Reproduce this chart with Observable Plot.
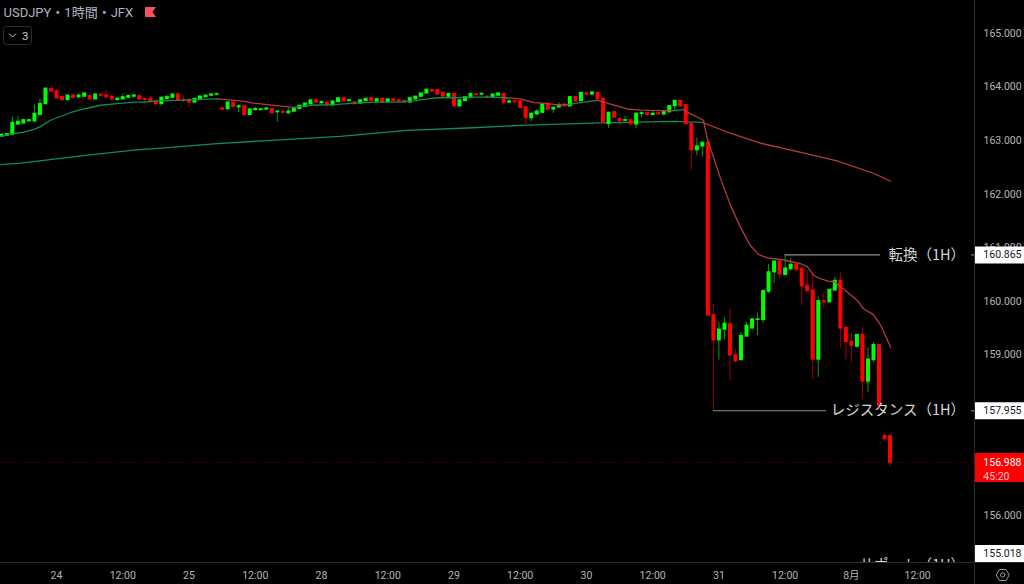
<!DOCTYPE html>
<html><head><meta charset="utf-8">
<script src="https://cdn.jsdelivr.net/npm/d3@7"></script>
<script src="https://cdn.jsdelivr.net/npm/@observablehq/plot@0.6"></script>
<style>html,body{margin:0;padding:0;background:#000;overflow:hidden}svg{display:block}</style>
</head><body><div id="chart"></div>
<script>
const firstBar = -10;
const opens = [163.07,163.09,163.11,163.30,163.32,163.36,163.36,163.48,163.68,163.96,
163.92,163.81,163.76,163.84,163.81,163.82,163.83,163.77,163.86,163.84,
163.82,163.76,163.77,163.80,163.82,163.83,163.77,163.78,163.73,163.68,
163.78,163.80,163.86,163.76,163.76,163.71,163.76,163.81,163.84,163.86,
163.60,163.59,163.71,163.62,163.64,163.48,163.57,163.57,163.58,163.59,
163.53,163.53,163.51,163.54,163.59,163.63,163.68,163.75,163.70,163.71,
163.66,163.72,163.79,163.74,163.71,163.69,163.74,163.79,163.73,163.78,
163.72,163.77,163.75,163.74,163.71,163.77,163.82,163.88,163.94,163.94,
163.89,163.82,163.87,163.64,163.74,163.80,163.86,163.86,163.82,163.81,
163.84,163.87,163.71,163.73,163.73,163.62,163.42,163.49,163.52,163.69,
163.58,163.62,163.67,163.64,163.81,163.74,163.88,163.86,163.89,163.78,
163.31,163.53,163.40,163.37,163.38,163.30,163.50,163.51,163.48,163.51,
163.49,163.53,163.64,163.74,163.66,163.31,162.82,162.89,162.96,159.74,
159.27,159.47,159.57,158.99,158.90,159.34,159.49,159.65,159.65,160.18,
160.54,160.74,160.49,160.60,160.68,160.60,160.29,160.20,158.91,160.00,
159.98,160.20,160.38,159.50,159.24,159.15,159.37,158.50,158.90,159.18,
157.48,157.48];
const highs = [163.11,163.12,163.44,163.45,163.40,163.39,163.66,163.78,163.97,163.99,
163.96,163.84,163.84,163.86,163.87,163.88,163.84,163.86,163.87,163.94,
163.84,163.81,163.87,163.85,163.86,163.84,163.80,163.82,163.77,163.81,
163.84,163.86,163.89,163.84,163.78,163.78,163.84,163.84,163.87,163.87,
163.64,163.71,163.71,163.67,163.64,163.58,163.62,163.61,163.61,163.60,
163.54,163.56,163.61,163.61,163.65,163.69,163.75,163.77,163.73,163.72,
163.73,163.79,163.79,163.77,163.72,163.75,163.78,163.84,163.79,163.79,
163.77,163.77,163.77,163.75,163.79,163.82,163.88,163.95,163.96,163.94,
163.89,163.88,163.87,163.75,163.81,163.87,163.87,163.90,163.83,163.87,
163.88,163.87,163.78,163.76,163.75,163.62,163.50,163.58,163.68,163.69,
163.63,163.71,163.69,163.81,163.81,163.89,163.89,163.90,163.90,163.82,
163.52,163.56,163.40,163.45,163.38,163.52,163.55,163.51,163.56,163.53,
163.55,163.64,163.74,163.74,163.66,163.31,163.05,162.96,162.96,159.94,
159.61,159.69,159.84,159.09,159.42,159.61,159.66,159.78,160.19,160.69,
160.74,160.75,160.865,160.79,160.70,160.64,160.57,160.51,160.08,160.17,
160.23,160.45,160.53,159.50,159.41,159.37,159.50,159.13,159.23,159.18,
157.53,157.48];
const lows = [163.07,163.09,163.11,163.30,163.31,163.36,163.33,163.47,163.68,163.89,
163.78,163.73,163.72,163.79,163.78,163.82,163.77,163.77,163.81,163.79,
163.74,163.73,163.77,163.79,163.79,163.76,163.66,163.71,163.68,163.67,
163.75,163.80,163.75,163.71,163.64,163.71,163.75,163.81,163.81,163.84,
163.56,163.55,163.61,163.52,163.47,163.47,163.55,163.55,163.57,163.51,
163.34,163.50,163.50,163.53,163.58,163.63,163.68,163.70,163.66,163.59,
163.65,163.71,163.73,163.73,163.67,163.69,163.73,163.73,163.71,163.69,
163.71,163.73,163.72,163.69,163.71,163.76,163.81,163.87,163.91,163.86,
163.82,163.81,163.64,163.64,163.72,163.79,163.84,163.84,163.78,163.80,
163.84,163.67,163.70,163.66,163.61,163.28,163.35,163.46,163.52,163.55,
163.51,163.61,163.64,163.64,163.72,163.73,163.84,163.86,163.76,163.33,
163.23,163.43,163.36,163.36,163.27,163.22,163.42,163.48,163.46,163.48,
163.46,163.52,163.56,163.64,163.30,162.44,162.72,162.69,159.73,157.955,
158.90,159.28,158.52,158.85,158.90,159.34,159.49,159.36,159.59,160.14,
160.33,160.42,160.48,160.56,160.54,159.92,160.18,158.54,158.58,159.85,
159.97,160.19,159.13,158.91,158.85,159.13,158.17,158.30,158.86,158.04,
157.39,156.92];
const closes = [163.11,163.12,163.33,163.35,163.38,163.38,163.50,163.68,163.97,163.92,
163.79,163.76,163.84,163.80,163.84,163.88,163.77,163.86,163.84,163.81,
163.77,163.78,163.81,163.83,163.84,163.77,163.76,163.73,163.68,163.80,
163.81,163.86,163.76,163.74,163.71,163.78,163.82,163.84,163.86,163.87,
163.58,163.71,163.63,163.64,163.48,163.58,163.59,163.58,163.60,163.51,
163.54,163.52,163.54,163.59,163.65,163.69,163.75,163.71,163.72,163.66,
163.73,163.79,163.73,163.75,163.68,163.75,163.78,163.74,163.77,163.71,
163.77,163.74,163.73,163.72,163.79,163.82,163.88,163.95,163.92,163.86,
163.82,163.87,163.64,163.75,163.81,163.87,163.85,163.87,163.81,163.86,
163.88,163.71,163.73,163.72,163.61,163.42,163.50,163.54,163.68,163.58,
163.61,163.66,163.64,163.81,163.73,163.89,163.86,163.90,163.77,163.33,
163.52,163.43,163.36,163.38,163.31,163.50,163.51,163.48,163.50,163.49,
163.53,163.64,163.74,163.64,163.31,162.82,162.89,162.96,159.73,159.27,
159.47,159.58,158.99,158.88,159.35,159.54,159.66,159.66,160.19,160.54,
160.74,160.50,160.61,160.68,160.59,160.28,160.19,158.91,160.00,159.98,
160.21,160.38,159.49,159.24,159.17,159.37,158.50,158.91,159.18,158.04,
157.43,156.988];

const shortBars = [-10.14,-7.7,-5.9,-4.1,-2.9,-1.1,0.7,2.5,4.9,8,11,14,15.8,18.8,21.9,26.1,29.1,33.3,35.7,38.2,41.1,43,46,50.2,55.1,58.7,62.3,64.7,66.5,69,71.9,75.5,78,81.7,84.1,86.5,88.9,91.3,92.6,94.9,98,99.1,103.4,105.8,109.4,111.8,113.6,114.3,117.2,117.9,119.1,120.3,122.1,123.9,125.7,127.2,128.8,131.7,134.8,136,137.2,138.4,139.9,140.8,142.6,145.1,146.2,148,149.3,151.1];
const shortPrices = [163.08,163.13,163.16,163.21,163.26,163.38,163.45,163.52,163.59,163.66,163.69,163.72,163.72,163.74,163.75,163.77,163.78,163.74,163.70,163.67,163.64,163.62,163.66,163.67,163.71,163.72,163.72,163.74,163.77,163.80,163.80,163.81,163.81,163.80,163.78,163.71,163.69,163.66,163.67,163.71,163.75,163.72,163.59,163.57,163.56,163.56,163.58,163.53,163.38,163.03,162.66,162.29,161.79,161.38,161.04,160.87,160.81,160.77,160.70,160.65,160.48,160.42,160.37,160.37,160.23,160.01,159.86,159.75,159.55,159.14];
const shortTurns = [29.1,43,81.7,92.6,98,111.8,113.6];
const longBars = [-10.14,-6.5,-2.3,4.9,14,20.1,28.5,38.2,51.4,63.5,75.5,85.3,98.6,111.8,117,121.5,127.2,136,141.4,148,151.1];
const longPrices = [162.55,162.58,162.63,162.72,162.82,162.87,162.94,163.00,163.08,163.19,163.24,163.29,163.33,163.36,163.34,163.16,162.96,162.75,162.62,162.39,162.24];
const longTurn = 117;

const yTicks = [156,157,158,159,160,161,162,163,164,165];
const xTicks = [0,12,24,36,48,60,72,84,96,108,120,132,144,156];
const xLabels = ["24","12:00","25","12:00","28","12:00","29","12:00","30","12:00","31","12:00","8月","12:00"];
const lastPrice = 156.988;
const lastTag = ["156.988","45:20"];
const levels = [
  {name:"転換（1H）", price:160.865, start:132, end:149.3, tag:"160.865"},
  {name:"レジスタンス（1H）", price:157.955, start:119, end:139.5, tag:"157.955"}
];
const pinned = {name:"サポート（1H）", price:155.06, tag:"155.018", tagPrice:155.29};

const bars = opens.map((o,k)=>({bar:firstBar+k, open:o, high:highs[k], low:lows[k], close:closes[k]}));
const up = bars.filter(d=>d.close>=d.open), down = bars.filter(d=>d.close<d.open);
const shortLine = shortBars.map((b,k)=>({bar:b, price:shortPrices[k], trend: shortTurns.filter(t=>t<=b).length%2 ? "down":"up"}));
const longLine = longBars.map((b,k)=>({bar:b, price:longPrices[k], trend: b>=longTurn ? "down":"up"}));

const axisBar = 166.3, edgeBar = 175.4, tagBar = 167.9, textEnd = 164.6, tickStart = 165.8;
const font = "Roboto, 'Noto Sans CJK JP', sans-serif";
const cjk = "'Noto Sans CJK JP', sans-serif";
const axisInk = "#b2b5be";

function chrome(index, scales, values, dim){
  const g = d3.create("svg:g").attr("fill","none");
  const ax = scales.x(axisBar), ay = scales.y(155.121);
  g.append("line").attr("x1",ax+.5).attr("x2",ax+.5).attr("y1",0).attr("y2",dim.height).attr("stroke","#2b2b2b");
  g.append("line").attr("x1",0).attr("x2",dim.width).attr("y1",ay+.5).attr("y2",ay+.5).attr("stroke","#2b2b2b");
  g.append("path").attr("d","M145 7H156L152.5 12L156 17H145Z").attr("fill","#f7525f");
  g.append("rect").attr("x",3.5).attr("y",26.5).attr("width",28).attr("height",18).attr("rx",3).attr("stroke","#2e2e2e");
  g.append("path").attr("d","M9 33.5L12.5 37L16 33.5").attr("stroke","#c8c8c8");
  g.append("path").attr("d","M996.2 575L999.4 569.5H1006L1009.2 575L1006 580.5H999.4Z").attr("stroke","#9a9a9a");
  g.append("circle").attr("cx",1002.7).attr("cy",575).attr("r",2.2).attr("stroke","#9a9a9a");
  return g.node();
}

const plot = Plot.plot({
  width:1024, height:584, marginLeft:0, marginRight:50, marginTop:0, marginBottom:22,
  style:{background:"#000", fontFamily:font, fontSize:"10.5px", color:axisInk},
  x:{type:"linear", domain:[-10.145,axisBar]},
  y:{type:"linear", domain:[155.121,165.616]},
  color:{domain:["up","down"], range:["#0b8f52","#b53b3b"]},
  marks:[
    Plot.axisY({anchor:"right", ticks:yTicks, tickSize:0, tickPadding:9, tickFormat:d3.format(".3f"), fill:axisInk, fontSize:10.5, label:null}),
    Plot.axisX({ticks:xTicks, tickSize:0, tickPadding:9, tickFormat:(d)=>xLabels[xTicks.indexOf(d)], fill:axisInk, fontSize:10.5, label:null}),
    Plot.ruleY([lastPrice],{x1:-10.145,x2:axisBar,stroke:"#5e0000",strokeDasharray:"1,2"}),
    Plot.line(longLine,{x:"bar",y:"price",stroke:"trend",z:null,strokeWidth:1.3}),
    Plot.ruleX(up,{x:"bar",y1:"low",y2:"high",stroke:"#00a000",strokeWidth:1}),
    Plot.ruleX(down,{x:"bar",y1:"low",y2:"high",stroke:"#a00000",strokeWidth:1}),
    Plot.ruleX(up,{x:"bar",y1:"close",y2:"open",stroke:"#00ff00",strokeWidth:4,insetTop:-.6,insetBottom:-.6}),
    Plot.ruleX(down,{x:"bar",y1:"open",y2:"close",stroke:"#ff0000",strokeWidth:4,insetTop:-.6,insetBottom:-.6}),
    Plot.line(shortLine,{x:"bar",y:"price",stroke:"trend",z:null,strokeWidth:1.3}),
    Plot.ruleY(levels,{y:"price",x1:"start",x2:"end",stroke:"#8c8c8c",strokeWidth:1.2}),
    Plot.ruleY(levels,{y:"price",x1:tickStart,x2:axisBar,stroke:"#8c8c8c",strokeWidth:1.2}),
    Plot.text(levels,{x:textEnd,y:"price",text:"name",textAnchor:"end",fill:"#d6d6d6",fontSize:14.5,fontFamily:cjk}),
    Plot.text([pinned],{x:textEnd,y:"price",text:"name",textAnchor:"end",fill:"#d6d6d6",fontSize:14.5,fontFamily:cjk,clip:"frame"}),
    Plot.ruleY(levels,{y:"price",x1:axisBar,x2:edgeBar,stroke:"#fff",strokeWidth:17}),
    Plot.ruleY([pinned],{y:"tagPrice",x1:axisBar,x2:edgeBar,stroke:"#fff",strokeWidth:17}),
    Plot.text(levels,{x:tagBar,y:"price",text:"tag",textAnchor:"start",fill:"#131722",fontSize:10.5}),
    Plot.text([pinned],{x:tagBar,y:"tagPrice",text:"tag",textAnchor:"start",fill:"#131722",fontSize:10.5}),
    Plot.rect([lastPrice],{x1:axisBar,x2:edgeBar,y1:157.157,y2:156.615,fill:"#ff0000"}),
    Plot.text([lastPrice],{x:tagBar,y:lastPrice,text:()=>lastTag[0],textAnchor:"start",fill:"#fff",fontSize:10.5}),
    Plot.text([lastPrice],{x:tagBar,y:156.73,text:()=>lastTag[1],textAnchor:"start",fill:"#ffc8c8",fontSize:10.5}),
    Plot.text(["USDJPY・1時間・JFX"],{frameAnchor:"top-left",dx:3,dy:12,lineAnchor:"middle",fill:"#b2b5be",fontSize:13}),
    Plot.text(["3"],{frameAnchor:"top-left",dx:21.5,dy:35.5,lineAnchor:"middle",fill:"#c8c8c8",fontSize:11.5}),
    chrome
  ]
});
document.getElementById("chart").append(plot);
</script></body></html>
